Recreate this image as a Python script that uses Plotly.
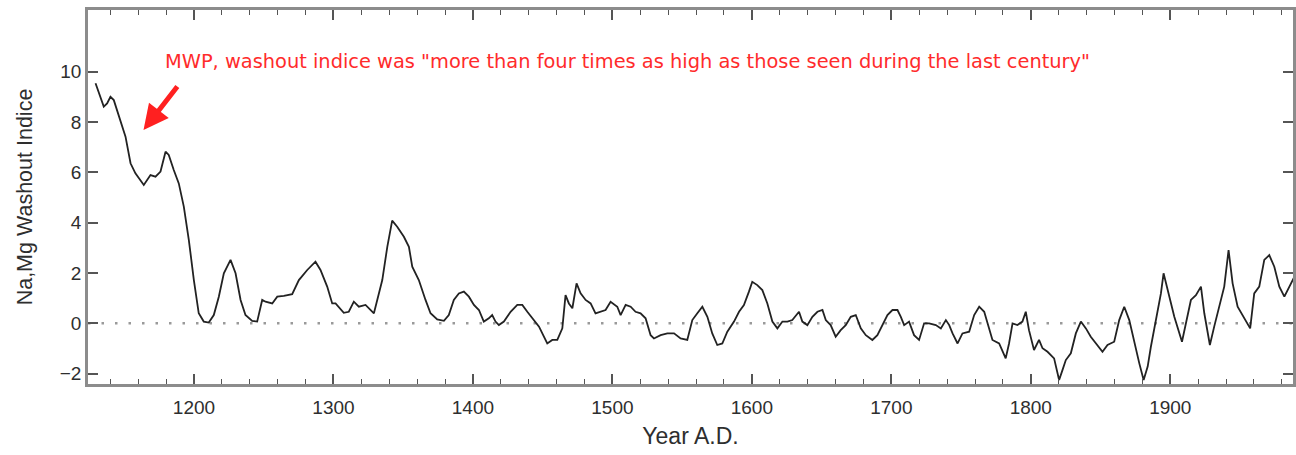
import plotly.graph_objects as go

# Na,Mg washout index record (smoothed), by year A.D.
years = [
    1129.4, 1135.3, 1137.7, 1140.1, 1142.5, 1146.1, 1150.9, 1154.5, 1158.0, 1164.0,
    1166.4, 1168.8, 1172.4, 1176.0, 1179.6, 1181.9, 1185.5, 1189.1, 1192.7, 1196.3,
    1199.9, 1203.4, 1207.0, 1210.6, 1214.2, 1217.8, 1221.4, 1226.2, 1229.8, 1233.4,
    1236.9, 1241.7, 1245.3, 1248.9, 1251.3, 1256.1, 1259.7, 1264.4, 1270.4, 1275.2,
    1281.2, 1287.1, 1290.7, 1295.5, 1299.1, 1301.5, 1307.4, 1311.0, 1314.6, 1318.2,
    1323.0, 1329.0, 1335.0, 1338.6, 1342.1, 1345.7, 1350.5, 1354.1, 1356.5, 1361.2,
    1366.0, 1369.6, 1374.4, 1379.2, 1382.7, 1386.3, 1389.9, 1393.5, 1397.1, 1400.7,
    1404.3, 1407.8, 1411.4, 1413.8, 1416.2, 1418.6, 1422.2, 1427.0, 1431.8, 1435.4,
    1439.0, 1443.8, 1447.4, 1450.9, 1453.3, 1456.9, 1460.5, 1464.1, 1466.4, 1468.8,
    1471.3, 1474.3, 1477.2, 1480.8, 1484.4, 1487.9, 1491.5, 1495.1, 1498.7, 1503.5,
    1505.9, 1509.5, 1513.1, 1516.6, 1520.2, 1523.8, 1527.4, 1529.8, 1534.6, 1539.4,
    1544.2, 1548.9, 1553.7, 1557.3, 1560.9, 1564.5, 1568.1, 1571.6, 1575.2, 1578.8,
    1582.4, 1587.2, 1590.8, 1594.3, 1597.9, 1600.3, 1603.9, 1607.5, 1611.1, 1614.7,
    1618.3, 1621.9, 1625.5, 1629.0, 1633.8, 1636.2, 1639.8, 1643.4, 1647.0, 1650.6,
    1653.0, 1656.5, 1660.1, 1663.7, 1667.3, 1670.9, 1674.5, 1678.1, 1681.7, 1686.4,
    1690.0, 1693.6, 1697.2, 1700.8, 1704.4, 1706.8, 1709.2, 1712.7, 1716.3, 1719.9,
    1723.5, 1727.1, 1731.9, 1735.5, 1739.1, 1741.5, 1743.9, 1747.5, 1751.0, 1755.8,
    1759.4, 1763.0, 1766.6, 1769.0, 1772.5, 1777.3, 1782.0, 1784.4, 1786.9, 1790.4,
    1794.0, 1796.4, 1798.7, 1802.3, 1805.9, 1808.4, 1812.0, 1816.7, 1820.3, 1822.7,
    1825.1, 1828.7, 1832.3, 1835.9, 1839.5, 1843.0, 1847.8, 1851.4, 1855.0, 1859.8,
    1863.4, 1867.0, 1870.6, 1874.2, 1877.8, 1880.9, 1883.8, 1886.1, 1889.7, 1893.3,
    1895.2, 1898.1, 1902.9, 1908.4, 1911.2, 1914.8, 1918.4, 1922.0, 1924.4, 1928.4,
    1931.5, 1935.1, 1938.7, 1941.8, 1944.7, 1948.3, 1953.0, 1957.3, 1960.2, 1963.8,
    1967.4, 1971.0, 1974.6, 1978.2, 1981.8, 1985.3, 1989.0,
]
washout = [
    9.54, 8.61, 8.74, 9.00, 8.87, 8.28, 7.42, 6.36, 5.96, 5.50,
    5.70, 5.89, 5.83, 6.03, 6.82, 6.69, 6.09, 5.56, 4.64, 3.31,
    1.72, 0.40, 0.07, 0.03, 0.33, 1.06, 1.99, 2.52, 1.99, 0.93,
    0.33, 0.10, 0.07, 0.93, 0.86, 0.79, 1.06, 1.09, 1.16, 1.72,
    2.12, 2.45, 2.12, 1.46, 0.79, 0.79, 0.42, 0.46, 0.86, 0.66,
    0.73, 0.40, 1.72, 3.04, 4.08, 3.84, 3.44, 3.04, 2.25, 1.72,
    0.93, 0.40, 0.16, 0.10, 0.33, 0.93, 1.19, 1.26, 1.06, 0.73,
    0.53, 0.07, 0.20, 0.33, 0.07, -0.07, 0.07, 0.46, 0.73, 0.73,
    0.46, 0.13, -0.13, -0.53, -0.80, -0.66, -0.66, -0.20, 1.12, 0.79,
    0.60, 1.59, 1.19, 0.93, 0.79, 0.40, 0.46, 0.53, 0.86, 0.66,
    0.33, 0.73, 0.66, 0.46, 0.40, 0.20, -0.47, -0.60, -0.47, -0.40,
    -0.40, -0.60, -0.66, 0.13, 0.40, 0.66, 0.26, -0.40, -0.86, -0.80,
    -0.33, 0.07, 0.46, 0.73, 1.26, 1.65, 1.52, 1.32, 0.79, 0.07,
    -0.20, 0.07, 0.07, 0.13, 0.46, 0.07, -0.07, 0.26, 0.46, 0.53,
    0.13, -0.07, -0.53, -0.27, -0.07, 0.26, 0.33, -0.20, -0.47, -0.66,
    -0.47, -0.07, 0.33, 0.53, 0.53, 0.26, -0.07, 0.07, -0.47, -0.66,
    0.00, 0.00, -0.07, -0.20, 0.13, -0.07, -0.40, -0.80, -0.40, -0.33,
    0.33, 0.66, 0.46, 0.00, -0.66, -0.80, -1.39, -0.80, 0.00, -0.07,
    0.07, 0.46, -0.27, -1.06, -0.66, -0.99, -1.13, -1.39, -2.25, -1.86,
    -1.46, -1.19, -0.40, 0.07, -0.20, -0.53, -0.86, -1.13, -0.86, -0.73,
    0.13, 0.66, 0.13, -0.80, -1.59, -2.25, -1.72, -0.93, 0.13, 1.19,
    1.99, 1.32, 0.26, -0.73, 0.00, 0.93, 1.12, 1.46, 0.40, -0.86,
    -0.13, 0.66, 1.46, 2.91, 1.59, 0.66, 0.20, -0.20, 1.19, 1.46,
    2.52, 2.71, 2.25, 1.46, 1.06, 1.46, 1.85,
]

x_ticks = [1200, 1300, 1400, 1500, 1600, 1700, 1800, 1900]
y_ticks = [-2, 0, 2, 4, 6, 8, 10]

note_text = 'MWP, washout indice was "more than four times as high as those seen during the last century"'

AXIS_GREY = "#8c8c8c"
SANS = "Liberation Sans, Arial, sans-serif"
TICK_FONT = dict(family=SANS, size=19, color="#2e2e2e")

fig = go.Figure()

fig.add_trace(go.Scatter(
    x=years, y=washout, mode="lines",
    line=dict(color="#222222", width=1.8),
    showlegend=False, hoverinfo="skip",
))

# dotted zero reference line
fig.add_shape(
    type="line", xref="paper", yref="y", x0=0, x1=1, y0=0, y1=0,
    line=dict(color="#9a9a9a", width=2.5, dash="2.5px,11px"), layer="below",
)

# red note and arrow pointing at the early maximum
fig.add_annotation(
    x=1178.1, y=10.39, xref="x", yref="y", text=note_text, showarrow=False,
    xanchor="left", yanchor="middle",
    font=dict(family="DejaVu Sans, Verdana, sans-serif", size=19.4, color="#ff2b2b"),
)
fig.add_annotation(
    x=1163.8, y=7.68, xref="x", yref="y", text="", showarrow=True,
    ax=35, ay=-45, arrowhead=2, arrowsize=1.0, arrowwidth=5, arrowcolor="#ff2020",
)

fig.update_xaxes(
    range=[1124, 1988], tickvals=x_ticks, ticktext=[str(v) for v in x_ticks],
    ticks="inside", ticklen=10, tickwidth=1.5, tickcolor="#555555",
    minor=dict(dtick=20, tick0=1200, ticks="inside", ticklen=5, tickwidth=1.2, tickcolor="#555555"),
    showline=True, linecolor=AXIS_GREY, linewidth=2.5, mirror="allticks",
    showgrid=False, zeroline=False, tickfont=TICK_FONT, ticklabelstandoff=4,
    title=dict(text="Year A.D.", font=dict(family=SANS, size=23, color="#2e2e2e"), standoff=12),
)
fig.update_yaxes(
    range=[-2.41, 12.45], tickvals=y_ticks, ticktext=[str(v) if v >= 0 else "\u2212" + str(-v) for v in y_ticks],
    ticks="inside", ticklen=10, tickwidth=1.5, tickcolor="#555555",
    showline=True, linecolor=AXIS_GREY, linewidth=2.5, mirror="allticks",
    showgrid=False, zeroline=False, tickfont=TICK_FONT,
    title=dict(text="Na,Mg Washout Indice", font=dict(family=SANS, size=21.5, color="#2e2e2e"), standoff=22),
)

fig.update_layout(
    width=1296, height=455,
    margin=dict(l=88, r=3, t=10, b=71, autoexpand=False),
    paper_bgcolor="white", plot_bgcolor="white",
)

fig.write_html("out.html")
